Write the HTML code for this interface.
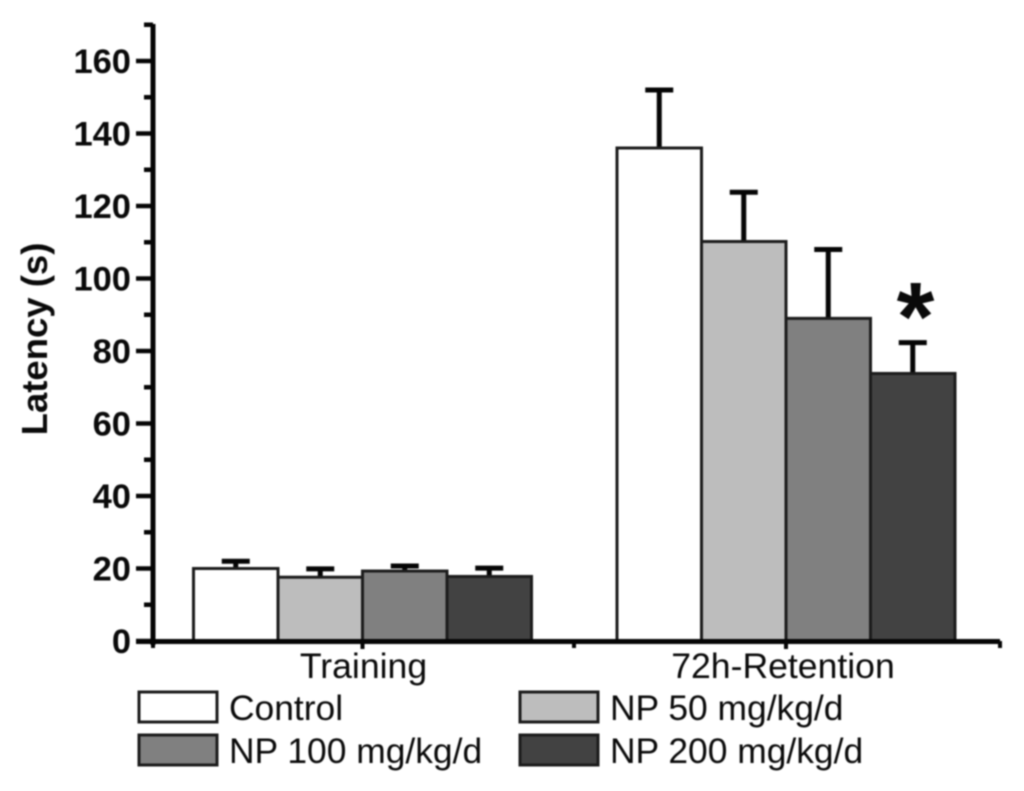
<!DOCTYPE html>
<html>
<head>
<meta charset="utf-8">
<style>
html,body{margin:0;padding:0;background:#fff;width:1024px;height:791px;overflow:hidden}
svg{display:block;filter:blur(0.8px)}
text{font-family:"Liberation Sans",sans-serif;fill:#0a0a0a}
</style>
</head>
<body>
<svg id="chart" width="1024" height="791" viewBox="0 0 1024 791" xmlns="http://www.w3.org/2000/svg"></svg>
<script>
const groups = ['Training', '72h-Retention'];
const seriesNames = ['Control', 'NP 50 mg/kg/d', 'NP 100 mg/kg/d', 'NP 200 mg/kg/d'];
const seriesFills = ['#ffffff', '#bdbdbd', '#808080', '#424242'];
const trainingMeans = [20, 17.6, 19.3, 17.8];
const trainingErrors = [2.0, 2.3, 1.4, 2.3];
const retentionMeans = [136, 110.2, 89, 73.8];
const retentionErrors = [16, 13.6, 19, 8.5];
const yMajorTicks = [0, 20, 40, 60, 80, 100, 120, 140, 160];
const yMinorTicks = [10, 30, 50, 70, 90, 110, 130, 150, 170];

const svg = document.getElementById('chart');
const NS = 'http://www.w3.org/2000/svg';
const y = v => 641 - v * 3.625;
const groupCenter = i => 362.5 + i * 423.5;
const barW = 84.5;
const barX = (g, s) => groupCenter(g) + (s - 2) * barW;

function make(tag, attrs, text) {
  const el = document.createElementNS(NS, tag);
  for (const k in attrs) el.setAttribute(k, attrs[k]);
  if (text !== undefined) el.textContent = text;
  svg.appendChild(el);
  return el;
}
function line(x1, y1, x2, y2, w) {
  return make('line', { x1: x1, y1: y1, x2: x2, y2: y2, stroke: '#050505', 'stroke-width': w });
}

[trainingMeans, retentionMeans].forEach((means, g) => {
  const errs = g === 0 ? trainingErrors : retentionErrors;
  means.forEach((m, s) => {
    const cx = barX(g, s) + barW / 2;
    const stem = line(cx, y(m) + 2, cx, y(m + errs[s]), 5);
    
    
    const cap = line(cx - 14, y(m + errs[s]), cx + 14, y(m + errs[s]), 5);
    
    
  });
});
[trainingMeans, retentionMeans].forEach((means, g) => {
  means.forEach((m, s) => {
    const bar = make('rect', {
      x: barX(g, s), y: y(m), width: barW, height: y(0) - y(m),
      fill: seriesFills[s], stroke: '#1c1c1c', 'stroke-width': 3
    });
    
    
  });
});

const yAxis = line(153, 24, 153, 645, 5);


const xAxis = line(136, 641.5, 1000, 641.5, 5);



yMajorTicks.forEach(v => {
  const t = line(136, y(v), 153, y(v), 4.5);
  
  
  const lab = make('text', {
    x: 131, y: y(v) + 12, 'text-anchor': 'end', 'font-size': 34.5, 'font-weight': 'bold'
  }, String(v));
  
  
});
yMinorTicks.forEach(v => {
  const t = line(144, y(v), 153, y(v), 4.5);
  
  
});

[0, 1].forEach(i => {
  const t = line(groupCenter(i), 641, groupCenter(i), 649, 4);
  
  
});
[153, 574, 1000].forEach(px => {
  const t = line(px, 641, px, 648, 4);
  
  
});

groups.forEach((name, i) => {
  const lab = make('text', {
    x: groupCenter(i) + (i === 0 ? 1 : -3), y: 678, 'text-anchor': 'middle', 'font-size': 35.6
  }, name);
  
  
});

const yTitle = make('text', {
  transform: 'translate(47,339) rotate(-90)', 'text-anchor': 'middle',
  'font-size': 36.5, 'font-weight': 'bold'
}, 'Latency (s)');



const star = make('text', {
  x: 915.5, y: 350, 'text-anchor': 'middle', 'font-size': 97, 'font-weight': 'bold'
}, '*');



const legendCols = [139, 520];
const legendRows = [692, 735];
seriesNames.forEach((name, i) => {
  const lx = legendCols[i % 2];
  const ly = legendRows[Math.floor(i / 2)];
  const sw = make('rect', {
    x: lx, y: ly, width: 78, height: 30, fill: seriesFills[i], stroke: '#1c1c1c', 'stroke-width': 3
  });
  
  
  const lab = make('text', { x: lx + 90, y: ly + 28, 'font-size': 35.4 }, name);
  
  
});
</script>
</body>
</html>
